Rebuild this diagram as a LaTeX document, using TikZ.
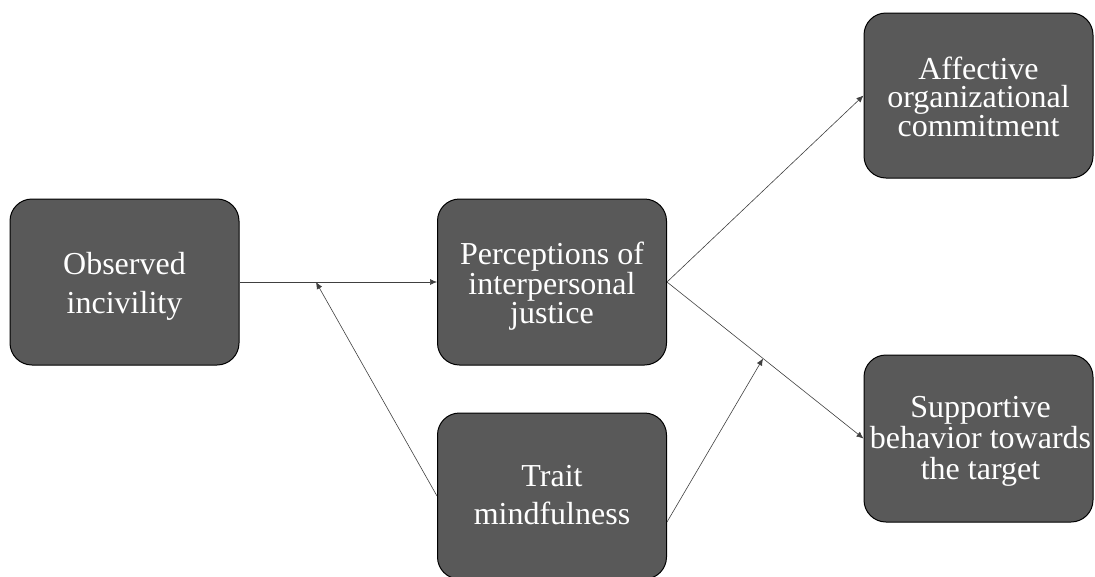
\documentclass[tikz,border=0pt]{standalone}
\usepackage{fontspec}
\setmainfont{Liberation Serif}
\usetikzlibrary{arrows.meta}
\definecolor{boxgray}{HTML}{595959}
\begin{document}
\begin{tikzpicture}[x=1pt,y=-1pt,
  box/.style={draw=black, line width=1pt, fill=boxgray, rounded corners=22pt,
    minimum width=229pt, minimum height=166pt, inner sep=0pt},
  txt/.style={text=white, align=center, inner sep=0pt},
  conn/.style={line width=0.6pt, draw=black!75, -{Latex[length=7pt,width=6pt]}}]
\useasboundingbox (0,0) rectangle (1095,576);
\clip (0,0) rectangle (1095,576);
\node[box] (obs) at (124.5,282) {};
\node[box] (per) at (552,282) {};
\node[box] (trait) at (552,496) {};
\node[box, minimum height=165pt] (aff) at (978.5,95.5) {};
\node[box, minimum height=167pt] (sup) at (978.5,438.5) {};
\node[txt, font=\fontsize{32}{39}\selectfont] (obsT) at (124.5,286) {Observed\\incivility};
\node[txt, font=\fontsize{32}{27.5}\selectfont] (perT) at (552,286) {Perceptions of\\interpersonal\\justice};
\node[txt, font=\fontsize{32}{38}\selectfont] (traitT) at (552,495) {Trait\\mindfulness};
\node[txt, font=\fontsize{32}{28}\selectfont] (affT) at (978.5,97) {Affective\\organizational\\commitment};
\node[txt, font=\fontsize{32}{31}\selectfont] (supT) at (980.5,441.5) {Supportive\\behavior towards\\the target};
\coordinate (m1) at (316,282);
\coordinate (m2) at (763,358.5);
\draw[conn] (obs.east) -- (per.west);
\draw[conn] (trait.west) -- (m1);
\draw[conn] (per.east) -- (aff.west);
\draw[conn] (per.east) -- (sup.west);
\draw[conn] ([yshift=-26pt]trait.east) -- (m2);
\end{tikzpicture}
\end{document}
